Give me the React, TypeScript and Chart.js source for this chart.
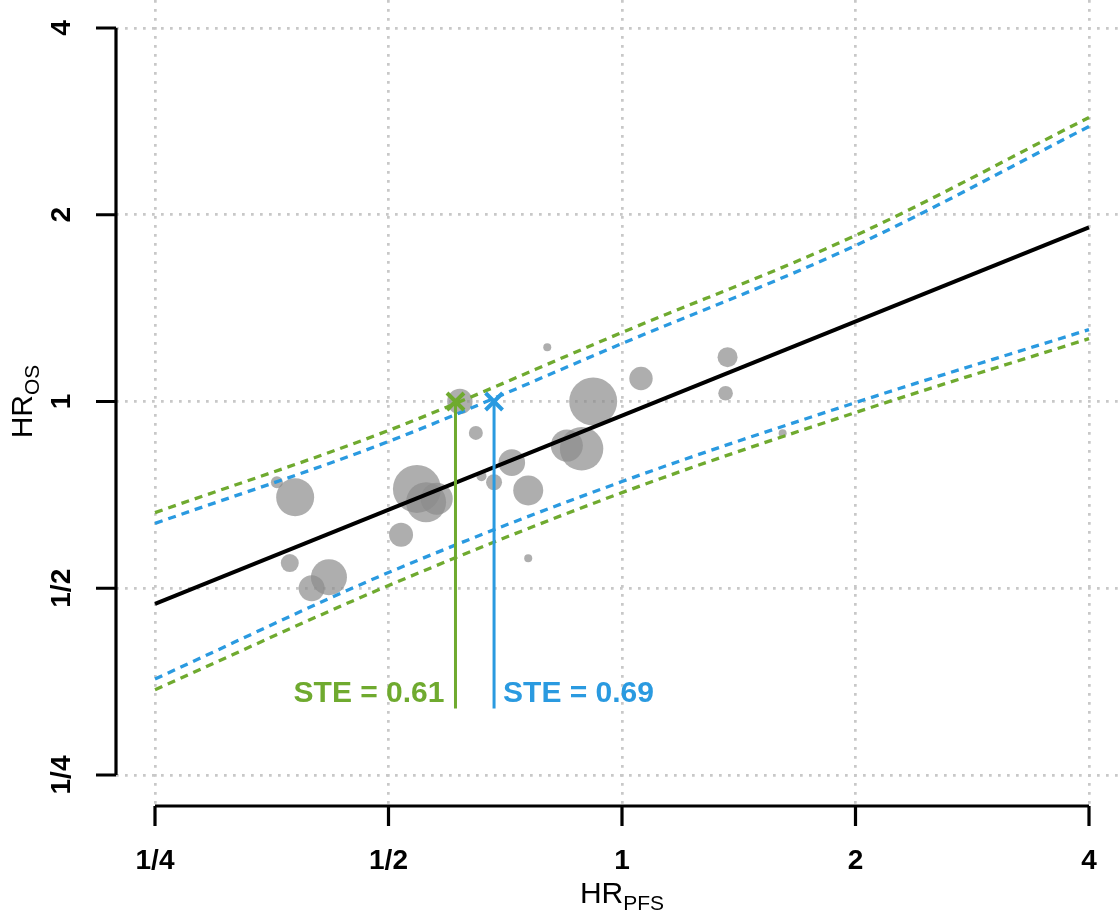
import { useEffect, useRef } from "react";
import { Chart, registerables } from "chart.js";

Chart.register(...registerables);

// axis ticks
const X_TICKS = [0.25, 0.5, 1, 2, 4];
const X_TICK_LABELS = ["1/4", "1/2", "1", "2", "4"];
const Y_TICKS = [0.25, 0.5, 1, 2, 4];
const Y_TICK_LABELS = ["1/4", "1/2", "1", "2", "4"];

// trials (HR PFS, HR OS, bubble radius)
const TRIAL_HR_PFS = [0.359, 0.379, 0.544, 0.559, 0.577, 0.519, 0.373, 0.419, 0.398, 0.801, 0.618, 0.648, 0.918, 1.058, 0.849, 0.887, 0.721, 0.659, 0.684, 0.757, 0.757, 1.368, 1.36, 1.611];
const TRIAL_HR_OS = [0.741, 0.701, 0.723, 0.688, 0.697, 0.61, 0.549, 0.521, 0.5, 1.223, 1.0, 0.89, 1.0, 1.089, 0.849, 0.839, 0.797, 0.758, 0.741, 0.719, 0.559, 1.179, 1.031, 0.889];
const TRIAL_SIZE = [6, 19, 24, 20, 16, 12, 9, 18, 13, 4, 12.7, 7, 24, 11.7, 16, 21.7, 13.3, 5, 8, 15, 4, 10, 7.3, 4];

// regression line
const FIT_PFS = [0.25, 4];
const FIT_OS = [0.472, 1.908];

// prediction limits
const BAND_PFS = [0.25, 0.5, 1, 2, 4];
const GREEN_UPPER = [0.662, 0.898, 1.292, 1.852, 2.87];
const GREEN_LOWER = [0.343, 0.505, 0.713, 0.96, 1.263];
const BLUE_UPPER = [0.636, 0.862, 1.24, 1.784, 2.775];
const BLUE_LOWER = [0.357, 0.53, 0.743, 0.996, 1.306];

// surrogate threshold effects
const STE_GREEN = 0.61;
const STE_BLUE = 0.684;
const STE_GREEN_LABEL = "STE = 0.61";
const STE_BLUE_LABEL = "STE = 0.69";
const STE_OS = 1;
const STE_LINE_END = 0.32;
const STE_LABEL_OS = 0.338;

const GREEN = "#6faa2f";
const BLUE = "#2a9ae0";
const FONT = "'Liberation Sans', Arial, Helvetica, sans-serif";

const pts = (xs: number[], ys: number[]) => xs.map((x, i) => ({ x, y: ys[i] }));

const bandSet = (ys: number[], color: string) => ({
  type: "line" as const,
  data: pts(BAND_PFS, ys),
  borderColor: color,
  borderWidth: 3.3,
  borderDash: [8, 6],
  pointRadius: 0,
  cubicInterpolationMode: "monotone" as const,
  fill: false,
});

const axesPlugin = {
  id: "rAxes",
  afterDraw(chart: any) {
    const ctx = chart.ctx;
    const xs = chart.scales.x;
    const ys = chart.scales.y;
    const left = chart.chartArea.left;
    const bottom = chart.chartArea.bottom;
    ctx.save();
    ctx.strokeStyle = "#000";
    ctx.fillStyle = "#000";
    ctx.lineWidth = 3.2;

    // y axis
    const yTop = ys.getPixelForValue(Y_TICKS[Y_TICKS.length - 1]);
    const yBot = ys.getPixelForValue(Y_TICKS[0]);
    ctx.beginPath();
    ctx.moveTo(left, yTop);
    ctx.lineTo(left, yBot);
    Y_TICKS.forEach((v) => {
      const p = ys.getPixelForValue(v);
      ctx.moveTo(left, p);
      ctx.lineTo(left - 20, p);
    });
    ctx.stroke();
    ctx.font = `bold 28px ${FONT}`;
    ctx.textAlign = "center";
    ctx.textBaseline = "middle";
    Y_TICKS.forEach((v, i) => {
      const p = ys.getPixelForValue(v);
      ctx.save();
      ctx.translate(62, p);
      ctx.rotate(-Math.PI / 2);
      ctx.fillText(Y_TICK_LABELS[i], 0, 0);
      ctx.restore();
    });

    // x axis
    const xL = xs.getPixelForValue(X_TICKS[0]);
    const xR = xs.getPixelForValue(X_TICKS[X_TICKS.length - 1]);
    ctx.beginPath();
    ctx.moveTo(xL, bottom);
    ctx.lineTo(xR, bottom);
    X_TICKS.forEach((v) => {
      const p = xs.getPixelForValue(v);
      ctx.moveTo(p, bottom);
      ctx.lineTo(p, bottom + 20);
    });
    ctx.stroke();
    X_TICKS.forEach((v, i) => {
      ctx.fillText(X_TICK_LABELS[i], xs.getPixelForValue(v), 861);
    });

    // axis titles with subscripts
    const title = (main: string, sub: string, cx: number, base: number, rotate: boolean) => {
      ctx.save();
      ctx.textAlign = "left";
      ctx.textBaseline = "alphabetic";
      ctx.font = `30px ${FONT}`;
      const wMain = ctx.measureText(main).width;
      ctx.font = `21px ${FONT}`;
      const wSub = ctx.measureText(sub).width;
      const start = -(wMain + wSub) / 2;
      if (rotate) {
        ctx.translate(base, cx);
        ctx.rotate(-Math.PI / 2);
      } else {
        ctx.translate(cx, base);
      }
      ctx.font = `30px ${FONT}`;
      ctx.fillText(main, start, 0);
      ctx.font = `21px ${FONT}`;
      ctx.fillText(sub, start + wMain, 7);
      ctx.restore();
    };
    title("HR", "PFS", xs.getPixelForValue(1), 903, false);
    title("HR", "OS", ys.getPixelForValue(1), 32, true);

    // STE labels
    ctx.font = `bold 30px ${FONT}`;
    ctx.textBaseline = "middle";
    const ly = ys.getPixelForValue(STE_LABEL_OS);
    ctx.fillStyle = GREEN;
    ctx.textAlign = "right";
    ctx.fillText(STE_GREEN_LABEL, xs.getPixelForValue(STE_GREEN) - 11, ly);
    ctx.fillStyle = BLUE;
    ctx.textAlign = "left";
    ctx.fillText(STE_BLUE_LABEL, xs.getPixelForValue(STE_BLUE) + 9, ly);
    ctx.restore();
  },
};

const XPX = 233.5;
const YPX = 186.75;

export default function App() {
  const chartRef = useRef<HTMLCanvasElement | null>(null);

  useEffect(() => {
    document.body.style.margin = "0";
    if (!chartRef.current) return;
    const chart = new Chart(chartRef.current, {
      type: "bubble",
      data: {
        datasets: [
          {
            type: "scatter",
            data: [{ x: STE_GREEN, y: STE_OS }],
            pointStyle: "crossRot",
            pointRadius: 12,
            borderColor: GREEN,
            borderWidth: 4,
          },
          {
            type: "scatter",
            data: [{ x: STE_BLUE, y: STE_OS }],
            pointStyle: "crossRot",
            pointRadius: 12,
            borderColor: BLUE,
            borderWidth: 4,
          },
          {
            type: "line",
            data: [
              { x: STE_GREEN, y: STE_OS },
              { x: STE_GREEN, y: STE_LINE_END },
            ],
            borderColor: GREEN,
            borderWidth: 3,
            pointRadius: 0,
          },
          {
            type: "line",
            data: [
              { x: STE_BLUE, y: STE_OS },
              { x: STE_BLUE, y: STE_LINE_END },
            ],
            borderColor: BLUE,
            borderWidth: 3,
            pointRadius: 0,
          },
          {
            type: "line",
            data: pts(FIT_PFS, FIT_OS),
            borderColor: "#000",
            borderWidth: 4,
            pointRadius: 0,
          },
          bandSet(BLUE_UPPER, BLUE),
          bandSet(BLUE_LOWER, BLUE),
          bandSet(GREEN_UPPER, GREEN),
          bandSet(GREEN_LOWER, GREEN),
          {
            type: "bubble",
            data: TRIAL_HR_PFS.map((x, i) => ({ x, y: TRIAL_HR_OS[i], r: TRIAL_SIZE[i] })),
            backgroundColor: "rgba(140,140,140,0.7)",
            borderWidth: 0,
          },
        ] as any,
      },
      options: {
        animation: false,
        responsive: false,
        layout: { padding: 0, autoPadding: false },
        plugins: { legend: { display: false }, tooltip: { enabled: false } },
        scales: {
          x: {
            type: "logarithmic",
            min: 0.25 * Math.pow(2, -39 / XPX),
            max: 4 * Math.pow(2, 29 / XPX),
            afterBuildTicks: (s: any) => {
              s.ticks = X_TICKS.map((value) => ({ value }));
            },
            afterFit: (s: any) => {
              s.height = 109;
            },
            ticks: { display: false },
            grid: { color: "#c8c8c8", lineWidth: 2.7, drawTicks: false },
            border: { display: false, dash: [2.7, 6.3] },
          },
          y: {
            type: "logarithmic",
            min: 0.25 * Math.pow(2, -31 / YPX),
            max: 4 * Math.pow(2, 28 / YPX),
            afterBuildTicks: (s: any) => {
              s.ticks = Y_TICKS.map((value) => ({ value }));
            },
            afterFit: (s: any) => {
              s.width = 116;
            },
            ticks: { display: false },
            grid: { color: "#c8c8c8", lineWidth: 2.7, drawTicks: false },
            border: { display: false, dash: [2.7, 6.3] },
          },
        },
      },
      plugins: [axesPlugin],
    });
    return () => chart.destroy();
  }, []);

  return <canvas ref={chartRef} width={1118} height={915} style={{ display: "block" }} />;
}
